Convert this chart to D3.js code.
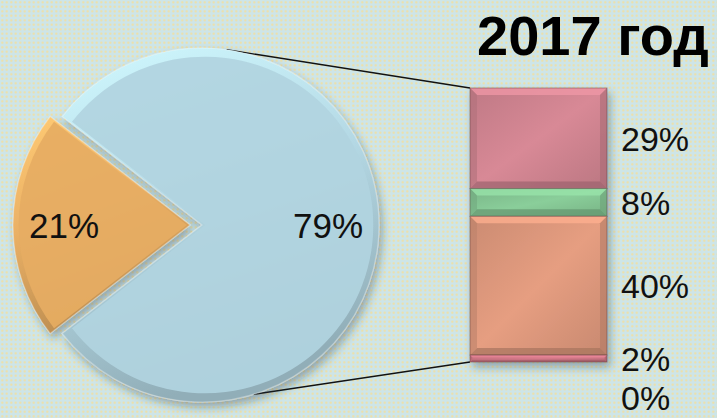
<!DOCTYPE html>
<html><head><meta charset="utf-8">
<script src="https://cdn.jsdelivr.net/npm/d3@7"></script>
<style>html,body{margin:0;padding:0;overflow:hidden;background:#cfe6e9}</style>
</head><body>
<script>
const title = "2017 год";
const pieValues = [79, 21];
const pieLabels = ["79%", "21%"];
const pieColors = ["#b1d4e0", "#e6ad63"];
const barValues = [29, 8, 40, 2, 0];
const barLabels = ["29%", "8%", "40%", "2%", "0%"];
const barColors = ["#c27b87", "#7cb98a", "#cf8e74", "#c06e7c", "#c9a0a0"];

const W = 717, H = 418;
const FONT = "'Liberation Sans', Arial, sans-serif";
const svg = d3.select("body").append("svg").attr("width", W).attr("height", H);
const defs = svg.append("defs");

// background texture
const pat = defs.append("pattern").attr("id", "bg").attr("width", 4.5).attr("height", 4.5).attr("patternUnits", "userSpaceOnUse");
pat.append("rect").attr("width", 4.5).attr("height", 4.5).attr("fill", "#cde5e8");
pat.append("circle").attr("cx", 2.25).attr("cy", 2.25).attr("r", 1.1).attr("fill", "#f2dfa0");
svg.append("rect").attr("width", W).attr("height", H).attr("fill", "url(#bg)");

// shadow filter
const f = defs.append("filter").attr("id", "sh").attr("x", "-20%").attr("y", "-20%").attr("width", "140%").attr("height", "140%");
f.append("feDropShadow").attr("dx", 3).attr("dy", 5).attr("stdDeviation", 4).attr("flood-color", "#203040").attr("flood-opacity", 0.35);

// ---- pie geometry
const cx = 202, cy = 225, R = 177, explode = 12;
const total = d3.sum(pieValues);
const half = Math.PI * pieValues[1] / total;
const pie = d3.pie().sort(null).value(d => d)
  .startAngle(-Math.PI / 2 + half).endAngle(-Math.PI / 2 + half + 2 * Math.PI);
const arcs = pie(pieValues);
const arc = d3.arc().innerRadius(0).outerRadius(R);
const arcInner = d3.arc().innerRadius(0).outerRadius(R - 7);
const labelArc = d3.arc().innerRadius(126).outerRadius(126);

// ---- bar geometry
const bx = 470, bw = 137, by0 = 88, by1 = 362;
const y = d3.scaleLinear().domain([0, d3.sum(barValues)]).range([by0, by1]);

// connector lines (behind pie)
const pt = a => [cx + R * Math.sin(a), cy - R * Math.cos(a)];
const topPt = pt(8 * Math.PI / 180), botPt = pt(163 * Math.PI / 180);
svg.append("line").attr("x1", topPt[0]).attr("y1", topPt[1]).attr("x2", bx).attr("y2", y(0))
  .attr("stroke", "#111").attr("stroke-width", 1.3);
svg.append("line").attr("x1", botPt[0]).attr("y1", botPt[1]).attr("x2", bx).attr("y2", y(d3.sum(barValues)))
  .attr("stroke", "#111").attr("stroke-width", 1.3);

// gradients for pie slices
pieColors.forEach((c, i) => {
  const e = defs.append("linearGradient").attr("id", "pe" + i).attr("x1", 0).attr("y1", 0).attr("x2", 0.3).attr("y2", 1);
  e.append("stop").attr("offset", "0%").attr("stop-color", d3.color(c).brighter(0.45));
  e.append("stop").attr("offset", "50%").attr("stop-color", d3.color(c).brighter(0.05));
  e.append("stop").attr("offset", "100%").attr("stop-color", d3.color(c).darker(0.55));
});

const pg = svg.append("g").attr("filter", "url(#sh)");
arcs.forEach((d, i) => {
  const a = (d.startAngle + d.endAngle) / 2;
  const off = i === 1 ? explode : 0;
  const tx = cx + off * Math.sin(a), ty = cy - off * Math.cos(a);
  const g = pg.append("g").attr("transform", `translate(${tx},${ty})`);
  g.append("path").attr("d", arc(d)).attr("fill", `url(#pe${i})`);
  g.append("path").attr("d", arcInner(d)).attr("fill", pieColors[i]).attr("opacity", 0.92)
    .attr("transform", `translate(${3 * Math.sin(a)},${-3 * Math.cos(a)}) scale(0.99)`);
  g.append("path").attr("d", arc(d)).attr("fill", "none").attr("stroke", "rgba(255,255,255,0.3)").attr("stroke-width", 1.2);
});

// pie labels
arcs.forEach((d, i) => {
  const a = (d.startAngle + d.endAngle) / 2;
  const off = i === 1 ? explode : 0;
  const c = labelArc.centroid(d);
  svg.append("text").attr("x", cx + off * Math.sin(a) + c[0]).attr("y", cy - off * Math.cos(a) + c[1])
    .attr("dy", "0.36em").attr("text-anchor", "middle")
    .attr("font-family", FONT).attr("font-size", 35).attr("fill", "#111").text(pieLabels[i]);
});

// bar segments
let acc = 0;
const segs = barValues.map((v, i) => { const s = { v, i, y0: y(acc), y1: y(acc + v) }; acc += v; return s; });
barColors.forEach((c, i) => {
  const g = defs.append("linearGradient").attr("id", "bg" + i).attr("x1", 0).attr("y1", 0).attr("x2", 1).attr("y2", 1);
  g.append("stop").attr("offset", "0%").attr("stop-color", d3.color(c).darker(0.05));
  g.append("stop").attr("offset", "50%").attr("stop-color", d3.color(c).brighter(0.3));
  g.append("stop").attr("offset", "100%").attr("stop-color", d3.color(c).darker(0.1));
});
const bg = svg.append("g").attr("filter", "url(#sh)");
segs.filter(s => s.v > 0).forEach(s => {
  const h = s.y1 - s.y0, c = barColors[s.i];
  const e = Math.min(7, h / 3);
  bg.append("rect").attr("x", bx).attr("y", s.y0).attr("width", bw).attr("height", h).attr("fill", `url(#bg${s.i})`);
  bg.append("path").attr("d", `M${bx},${s.y0}H${bx + bw}L${bx + bw - e},${s.y0 + e}H${bx + e}Z`)
    .attr("fill", d3.color(c).brighter(0.6)).attr("opacity", 0.75);
  bg.append("path").attr("d", `M${bx},${s.y1}H${bx + bw}L${bx + bw - e},${s.y1 - e}H${bx + e}Z`)
    .attr("fill", d3.color(c).darker(0.6)).attr("opacity", 0.7);
  bg.append("path").attr("d", `M${bx},${s.y0}L${bx + e},${s.y0 + e}V${s.y1 - e}L${bx},${s.y1}Z`)
    .attr("fill", d3.color(c).darker(0.25)).attr("opacity", 0.6);
  bg.append("path").attr("d", `M${bx + bw},${s.y0}L${bx + bw - e},${s.y0 + e}V${s.y1 - e}L${bx + bw},${s.y1}Z`)
    .attr("fill", d3.color(c).darker(0.4)).attr("opacity", 0.6);
  bg.append("rect").attr("x", bx).attr("y", s.y0).attr("width", bw).attr("height", h)
    .attr("fill", "none").attr("stroke", "rgba(90,60,60,0.45)").attr("stroke-width", 1);
});

// bar labels with collision avoidance
const minGap = 39;
let prev = -Infinity;
segs.forEach(s => {
  let ly = (s.y0 + s.y1) / 2;
  if (ly - prev < minGap) ly = prev + minGap;
  prev = ly;
  svg.append("text").attr("x", 621).attr("y", ly).attr("dy", "0.36em")
    .attr("font-family", FONT).attr("font-size", 34).attr("fill", "#111").text(barLabels[s.i]);
});

// title
svg.append("text").attr("x", 477).attr("y", 55).attr("font-family", FONT).attr("font-weight", "bold")
  .attr("font-size", 56).attr("fill", "#000").text(title);
</script>
</body></html>
